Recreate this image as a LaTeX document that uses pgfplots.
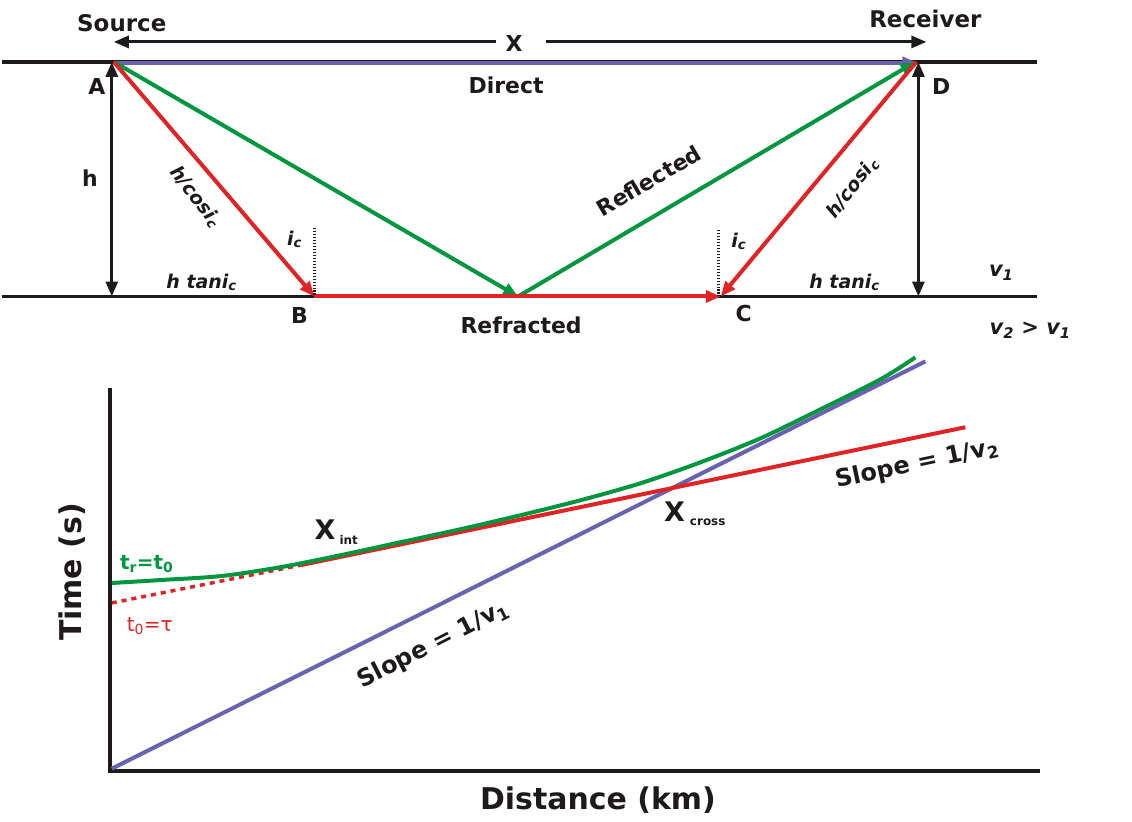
\documentclass[border=0pt]{standalone}
\usepackage{pgfplots}
\pgfplotsset{compat=1.18}
\usepackage{fontspec}
\setmainfont{DejaVu Sans}
\usetikzlibrary{arrows.meta}
\definecolor{rred}{RGB}{222,36,36}
\definecolor{rgreen}{RGB}{0,150,64}
\definecolor{rblue}{RGB}{106,98,176}
\definecolor{rblack}{RGB}{30,26,26}
\newcommand{\fs}[1]{\fontsize{#1}{#1}\selectfont}
\tikzset{
  tip/.style={-{Triangle[length=15pt,width=12pt]}},
  tipb/.style={{Triangle[length=15pt,width=12pt]}-{Triangle[length=15pt,width=12pt]}},
  lab/.style={inner sep=0pt, text=rblack}}
\begin{document}
\begin{tikzpicture}
\begin{axis}[scale only axis, width=1132pt, height=823pt,
  xmin=0, xmax=1132, ymin=0, ymax=823, y dir=reverse,
  hide axis, clip=false]
\path (axis cs:0,0) rectangle (axis cs:1132,823);
% ---------- top: ray diagram ----------
\addplot[rblack, line width=4pt] coordinates {(0,62) (1037,62)};
\addplot[rblack, line width=3pt] coordinates {(0,297) (1037,297)};
% X double arrow
\addplot[rblack, line width=3pt, tip] coordinates {(495,42) (112,42)};
\addplot[rblack, line width=3pt, tip] coordinates {(545,42) (926,42)};
% direct
\addplot[rblue, line width=4pt, tip] coordinates {(112,63) (917,63)};
% reflected
\addplot[rgreen, line width=4pt, tip] coordinates {(112,62) (517,297)};
\addplot[rgreen, line width=4pt, tip] coordinates {(517,297) (915,62)};
% refracted
\addplot[rred, line width=4pt, tip] coordinates {(112,62) (313,297)};
\addplot[rred, line width=4pt, tip] coordinates {(313,297) (720,297)};
\addplot[rred, line width=4pt, tip] coordinates {(916,62) (720,297)};
% verticals h
\addplot[rblack, line width=3pt, tipb] coordinates {(110,297) (110,62)};
\addplot[rblack, line width=3pt, tipb] coordinates {(918,62) (918,297)};
% normals
\addplot[rblack, line width=3pt, dash pattern=on 1.5pt off 1.5pt] coordinates {(313,228) (313,297)};
\addplot[rblack, line width=3pt, dash pattern=on 1.5pt off 1.5pt] coordinates {(718,230) (718,297)};
% labels top
\node[lab, font=\fs{23}\bfseries] at (axis cs:120,23) {Source};
\node[lab, font=\fs{23}\bfseries] at (axis cs:925,19) {Receiver};
\node[lab, font=\fs{22}\bfseries] at (axis cs:513,44) {X};
\node[lab, font=\fs{22}\bfseries] at (axis cs:95,87) {A};
\node[lab, font=\fs{22}\bfseries] at (axis cs:941,87) {D};
\node[lab, font=\fs{22}\bfseries] at (axis cs:505,85) {Direct};
\node[lab, font=\fs{22}\bfseries] at (axis cs:88,178) {h};
\node[lab, font=\fs{19}\bfseries\itshape, rotate=-52] at (axis cs:194,197) {h/cosi\textsubscript{c}};
\node[lab, font=\fs{19}\bfseries\itshape, rotate=52] at (axis cs:852,188) {h/cosi\textsubscript{c}};
\node[lab, font=\fs{19}\bfseries\itshape] at (axis cs:293,240) {i\textsubscript{c}};
\node[lab, font=\fs{19}\bfseries\itshape] at (axis cs:738,242) {i\textsubscript{c}};
\node[lab, font=\fs{19}\bfseries\itshape] at (axis cs:200,283) {h tani\textsubscript{c}};
\node[lab, font=\fs{19}\bfseries\itshape] at (axis cs:844,283) {h tani\textsubscript{c}};
\node[lab, font=\fs{22}\bfseries] at (axis cs:298,316) {B};
\node[lab, font=\fs{22}\bfseries] at (axis cs:743,314) {C};
\node[lab, font=\fs{22}\bfseries] at (axis cs:520,326) {Refracted};
\node[lab, font=\fs{22}\bfseries, rotate=30.4] at (axis cs:648,181) {Reflected};
\node[lab, font=\fs{21}\bfseries\itshape] at (axis cs:1001,273) {v\textsubscript{1}};
\node[lab, font=\fs{21}\bfseries\itshape] at (axis cs:1030,331) {v\textsubscript{2} \upshape> \itshape v\textsubscript{1}};
% ---------- bottom: travel-time plot ----------
\addplot[rblack, line width=4pt, line join=miter] coordinates {(108,389) (108,772) (1040,772)};
\addplot[rblue, line width=4pt] coordinates {(110,770) (925,362)};
\addplot[rred, line width=3.5pt, dash pattern=on 5pt off 5pt] coordinates {(110,604) (300,566)};
\addplot[rred, line width=4pt] coordinates {(300,566) (965,428)};
\addplot[rgreen, line width=4pt, smooth] coordinates {
 (110,584) (160,581) (220,577) (280,568) (340,556) (400,543) (460,530)
 (520,516) (580,501) (640,484) (700,463) (760,439) (820,410) (880,380) (915,358)};
% labels bottom
\node[lab, font=\fs{20}\bfseries, text=rgreen] at (axis cs:145,565) {t\textsubscript{r}=t\textsubscript{0}};
\node[lab, font=\fs{20}, text=rred] at (axis cs:148,627) {t\textsubscript{0}=τ};
\node[lab, font=\fs{27}\bfseries, anchor=south west] at (axis cs:313,541) {X};
\node[lab, font=\fs{12}\bfseries, anchor=south west] at (axis cs:338,546) {int};
\node[lab, font=\fs{27}\bfseries, anchor=south west] at (axis cs:663,523) {X};
\node[lab, font=\fs{12}\bfseries, anchor=south west] at (axis cs:689,527) {cross};
\node[lab, font=\fs{24}\bfseries, rotate=12] at (axis cs:917,465) {Slope = 1/v\textsubscript{2}};
\node[lab, font=\fs{24}\bfseries, rotate=27] at (axis cs:432,646) {Slope = 1/v\textsubscript{1}};
\node[lab, font=\fs{30}\bfseries, rotate=90] at (axis cs:70,573) {Time (s)};
\node[lab, font=\fs{30}\bfseries] at (axis cs:597,801) {Distance (km)};
\end{axis}
\end{tikzpicture}
\end{document}
